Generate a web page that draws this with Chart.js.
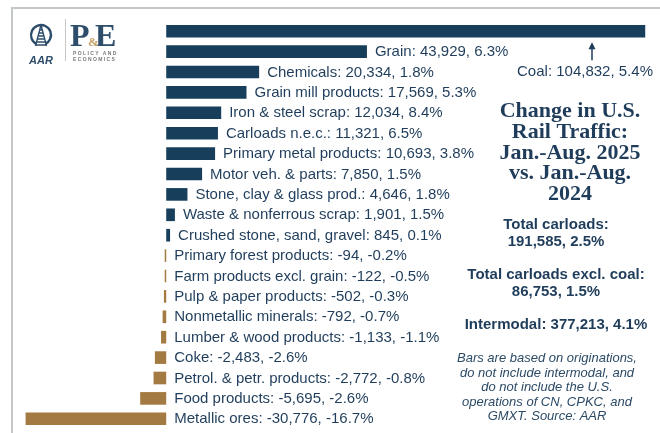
<!DOCTYPE html>
<html>
<head>
<meta charset="utf-8">
<script src="https://cdn.jsdelivr.net/npm/chart.js@4.4.1/dist/chart.umd.min.js"></script>
<style>
  body { margin: 0; background: #ffffff; }
  #wrap { position: relative; width: 660px; height: 433px; }
</style>
</head>
<body>
<div id="wrap"><canvas id="rail-chart" width="660" height="433"></canvas></div>
<script>
// Données : variation des wagons chargés, jan.-août 2025 vs jan.-août 2024
const categories = [
    'Coal', 'Grain', 'Chemicals', 'Grain mill products', 'Iron & steel scrap',
    'Carloads n.e.c.', 'Primary metal products', 'Motor veh. & parts',
    'Stone, clay & glass prod.', 'Waste & nonferrous scrap',
    'Crushed stone, sand, gravel', 'Primary forest products',
    'Farm products excl. grain', 'Pulp & paper products', 'Nonmetallic minerals',
    'Lumber & wood products', 'Coke', 'Petrol. & petr. products',
    'Food products', 'Metallic ores'
];
const carloadChange = [104832, 43929, 20334, 17569, 12034, 11321, 10693, 7850, 4646, 1901,
    845, -94, -122, -502, -792, -1133, -2483, -2772, -5695, -30776];
const pctChange = [5.4, 6.3, 1.8, 5.3, 8.4, 6.5, 3.8, 1.5, 1.8, 1.5,
    0.1, -0.2, -0.5, -0.3, -0.7, -1.1, -2.6, -0.8, -2.6, -16.7];

const titleLines = ['Change in U.S.', 'Rail Traffic:', 'Jan.-Aug. 2025', 'vs. Jan.-Aug.', '2024'];
const summaryLines = ['Total carloads:', '191,585, 2.5%', 'Total carloads excl. coal:', '86,753, 1.5%', 'Intermodal: 377,213, 4.1%'];
const noteLines = ['Bars are based on originations,', 'do not include intermodal, and',
    'do not include the U.S.', 'operations of CN, CPKC, and', 'GMXT. Source: AAR'];

const BLUE = '#173f5c';
const GOLD = '#a47a43';
const TEXT = '#1f3d5b';

function labelFor(i) {
    const v = carloadChange[i].toLocaleString('en-US');
    return `${categories[i]}: ${v}, ${pctChange[i].toFixed(1)}%`;
}

// Logo AAR / P&E dessiné à la main
function drawLogo(ctx) {
    ctx.save();
    ctx.strokeStyle = '#2d4d6b';
    ctx.lineWidth = 2.4;
    ctx.beginPath();
    ctx.arc(41, 35, 10, Math.PI / 2 + 0.45, Math.PI / 2 - 0.45 + Math.PI * 2);
    ctx.stroke();
    ctx.lineWidth = 1.4;
    ctx.beginPath();
    ctx.moveTo(41, 25); ctx.lineTo(35.5, 46);
    ctx.moveTo(41, 25); ctx.lineTo(46.5, 46);
    for (let y = 30; y <= 45; y += 3) {
        const half = (y - 25) * 0.28 + 0.5;
        ctx.moveTo(41 - half, y); ctx.lineTo(41 + half, y);
    }
    ctx.stroke();
    ctx.fillStyle = '#2d4d6b';
    ctx.font = 'italic bold 11px "Liberation Sans"';
    ctx.textAlign = 'center';
    ctx.fillText('AAR', 41, 64);

    ctx.strokeStyle = '#c8c8c8';
    ctx.lineWidth = 1;
    ctx.beginPath();
    ctx.moveTo(65.5, 19); ctx.lineTo(65.5, 61);
    ctx.stroke();

    ctx.textAlign = 'left';
    ctx.fillStyle = '#2d4d6b';
    ctx.font = 'bold 32px "Liberation Serif"';
    ctx.fillText('P', 70, 46);
    ctx.fillText('E', 95, 46);
    ctx.fillStyle = '#c9a46a';
    ctx.font = 'bold 13px "Liberation Serif"';
    ctx.fillText('&', 88, 46);
    ctx.fillStyle = '#7a7a7a';
    ctx.font = 'bold 5px "Liberation Sans"';
    ctx.fillText('P O L I C Y   A N D', 73, 55);
    ctx.fillText('E C O N O M I C S', 73, 61);
    ctx.restore();
}

const annotations = {
    id: 'annotations',
    beforeDraw(chart) {
        const ctx = chart.ctx;
        ctx.save();
        // cadre gris
        ctx.strokeStyle = '#c3c7c7';
        ctx.lineWidth = 2;
        ctx.beginPath();
        ctx.moveTo(12, 433); ctx.lineTo(12, 8); ctx.lineTo(660, 8);
        ctx.stroke();
        ctx.restore();
        drawLogo(ctx);
    },
    afterDatasetsDraw(chart) {
        const ctx = chart.ctx;
        const meta = chart.getDatasetMeta(0);
        const xScale = chart.scales.x;
        const zero = xScale.getPixelForValue(0);
        ctx.save();
        ctx.fillStyle = TEXT;
        ctx.font = '15px "Liberation Sans"';
        ctx.textBaseline = 'middle';
        ctx.textAlign = 'left';
        meta.data.forEach((bar, i) => {
            if (i === 0) return;
            const x = carloadChange[i] > 0 ? bar.x + 8 : zero + 8;
            ctx.fillText(labelFor(i), x, bar.y + 0.5);
        });

        // étiquette du charbon avec flèche
        const coal = meta.data[0];
        ctx.textAlign = 'center';
        ctx.fillText(labelFor(0), 585, 72);
        ctx.strokeStyle = TEXT;
        ctx.lineWidth = 1.5;
        ctx.beginPath();
        ctx.moveTo(592, coal.y + 29); ctx.lineTo(592, coal.y + 15);
        ctx.stroke();
        ctx.beginPath();
        ctx.moveTo(592, coal.y + 11); ctx.lineTo(588.5, coal.y + 18); ctx.lineTo(595.5, coal.y + 18);
        ctx.closePath();
        ctx.fill();

        // titre
        ctx.textBaseline = 'alphabetic';
        ctx.font = 'bold 22px "Liberation Serif"';
        titleLines.forEach((t, k) => ctx.fillText(t, 570, 117 + k * 20.8));

        // totaux
        ctx.font = 'bold 15px "Liberation Sans"';
        const sumY = [229, 246, 279, 296, 329];
        summaryLines.forEach((t, k) => ctx.fillText(t, 556, sumY[k]));

        // note
        ctx.fillStyle = '#2b4a66';
        ctx.font = 'italic 13px "Liberation Sans"';
        noteLines.forEach((t, k) => ctx.fillText(t, 547, 362 + k * 14.5));
        ctx.restore();
    }
};

const ctx = document.getElementById('rail-chart').getContext('2d');
new Chart(ctx, {
    type: 'bar',
    data: {
        labels: categories,
        datasets: [{
            data: carloadChange,
            backgroundColor: carloadChange.map(v => v >= 0 ? BLUE : GOLD),
            borderWidth: 0,
            barPercentage: 0.62,
            categoryPercentage: 1,
            minBarLength: 1.5
        }]
    },
    options: {
        indexAxis: 'y',
        responsive: false,
        animation: false,
        layout: { padding: { left: 20, right: 14, top: 21, bottom: 4 } },
        scales: {
            x: { display: false, min: -32000, max: 105000 },
            y: { display: false }
        },
        plugins: {
            legend: { display: false },
            tooltip: { enabled: false }
        }
    },
    plugins: [annotations]
});
</script>
</body>
</html>
